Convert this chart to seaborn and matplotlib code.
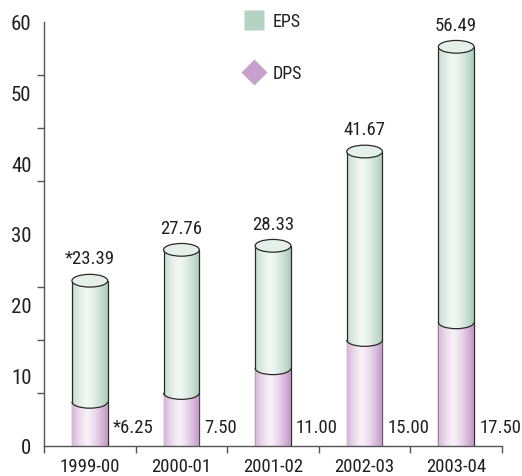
import matplotlib
matplotlib.use('Agg')
import matplotlib.pyplot as plt
import seaborn as sns
import numpy as np
import pandas as pd
from matplotlib.patches import Ellipse, Arc, Polygon
from matplotlib.lines import Line2D
from matplotlib import font_manager

# ---- data ----
years = ['1999-00', '2000-01', '2001-02', '2002-03', '2003-04']
eps = [23.39, 27.76, 28.33, 41.67, 56.49]
dps = [6.25, 7.50, 11.00, 15.00, 17.50]
eps_labels = ['*23.39', '27.76', '28.33', '41.67', '56.49']
dps_labels = ['*6.25', '7.50', '11.00', '15.00', '17.50']
y_labels = [0, 10, 20, 30, 40, 50, 60]
y_ticks = [0, 7.5, 15, 22.5, 30, 37.5, 45, 52.5, 60]
series_names = ['EPS', 'DPS']

# ---- style ----
sns.set_style('white')
fl = font_manager.fontManager.ttflist
names = {f.name for f in fl}
narrow = False
if 'Liberation Sans Narrow' in names:
    plt.rcParams['font.family'] = ['Liberation Sans Narrow', 'DejaVu Sans']
    narrow = True
elif 'Roboto Condensed' in names:
    plt.rcParams['font.family'] = ['Roboto Condensed', 'DejaVu Sans']
    narrow = True
elif any(f.name == 'DejaVu Sans' and f.stretch == 'condensed' for f in fl):
    plt.rcParams['font.family'] = ['DejaVu Sans']
    plt.rcParams['font.stretch'] = 'condensed'
    narrow = True
elif 'Open Sans Condensed' in names:
    plt.rcParams['font.family'] = ['Open Sans Condensed', 'DejaVu Sans']
    narrow = True
else:
    plt.rcParams['font.family'] = ['Liberation Sans', 'DejaVu Sans']

fs_val = 13.5 if narrow else 12
fs_x = 13.5 if narrow else 12
fs_y = 15 if narrow else 14
fs_leg = 13 if narrow else 12

green = '#a9cbb8'
green_hi = '#f2f8f4'
purple = '#c193c6'
purple_hi = '#f8f0f8'
edge = '#2a2a2a'
txt = '#231f20'
axis_col = '#555555'

fig = plt.figure(figsize=(5.22, 4.77), dpi=100)
ax = fig.add_axes([44 / 522, 30 / 477, (502 - 44) / 522, (447 - 23) / 477])

df = pd.DataFrame({'year': years, 'EPS': eps, 'DPS': dps})
W = 0.39
sns.barplot(data=df, x='year', y='EPS', color=green, width=W, saturation=1,
            edgecolor=edge, linewidth=0.9, errorbar=None, ax=ax)
sns.barplot(data=df, x='year', y='DPS', color=purple, width=W, saturation=1,
            edgecolor=edge, linewidth=0.9, errorbar=None, ax=ax)

ax.set_xlim(-0.5, 4.5)
ax.set_ylim(0, 60)

n = len(years)
bars = list(ax.patches)
green_bars, purple_bars = bars[:n], bars[n:2 * n]


def gradient(base, hi):
    t = np.linspace(0, 1, 200)
    s = np.clip(1 - (np.abs(t - 0.42) / 0.58) ** 1.4, 0, 1)
    b = np.array(matplotlib.colors.to_rgb(base))
    h = np.array(matplotlib.colors.to_rgb(hi))
    rgb = b[None, :] + (h - b)[None, :] * s[:, None]
    return rgb[None, :, :]


EH = 1.8  # ellipse height in data units
g_img = gradient(green, green_hi)
p_img = gradient(purple, purple_hi)
for i, p in enumerate(green_bars):
    x0, w, y0, h = p.get_x(), p.get_width(), p.get_y(), p.get_height()
    p.set_facecolor('none')
    p.set_zorder(2.1)
    im = ax.imshow(g_img, extent=[x0, x0 + w, y0, y0 + h], aspect='auto',
                   zorder=2.0, interpolation='bilinear')
    im.set_clip_path(p)
    ax.add_patch(Ellipse((x0 + w / 2, y0 + h), w, EH, facecolor='#e4f0e9',
                         edgecolor=edge, linewidth=0.9, zorder=2.6))

for i, p in enumerate(purple_bars):
    x0, w, y0, h = p.get_x(), p.get_width(), p.get_y(), p.get_height()
    p.set_facecolor('none')
    p.set_edgecolor('none')
    cx = x0 + w / 2
    th = np.linspace(np.pi, 2 * np.pi, 60)
    top = np.column_stack([cx + w / 2 * np.cos(th), y0 + h + EH / 2 * np.sin(th)])
    poly = np.vstack([top, [[x0 + w, y0], [x0, y0]]])
    clip = Polygon(poly, closed=True, facecolor='none', edgecolor='none',
                   transform=ax.transData)
    ax.add_patch(clip)
    im = ax.imshow(p_img, extent=[x0, x0 + w, y0, y0 + h], aspect='auto',
                   zorder=2.2, interpolation='bilinear')
    im.set_clip_path(clip)
    ax.add_patch(Arc((cx, y0 + h), w, EH, theta1=180, theta2=360,
                     edgecolor=edge, linewidth=0.9, zorder=2.5))

ax.set_xlim(-0.5, 4.5)
ax.set_ylim(0, 60)

# value labels
for i in range(n):
    ax.annotate(eps_labels[i], (i, eps[i]), xytext=(0, 16),
                textcoords='offset points', ha='center', va='center',
                fontsize=fs_val, color=txt)
    ax.text(i + 0.25, 2.7, dps_labels[i], ha='left', va='center',
            fontsize=fs_val, color=txt)

# axes
sns.despine(ax=ax, top=True, right=True)
for s in ['left', 'bottom']:
    ax.spines[s].set_color(axis_col)
    ax.spines[s].set_linewidth(1.0)

ax.set_yticks(y_labels)
ax.set_yticklabels([str(v) for v in y_labels], fontsize=fs_y, color=txt)
ax.set_yticks(y_ticks, minor=True)
ax.tick_params(axis='y', which='major', length=0, pad=9)
ax.tick_params(axis='y', which='minor', length=5, width=1.0, color=axis_col, left=True)

ax.set_xticks(range(n))
ax.set_xticklabels(years, fontsize=fs_x, color=txt)
ax.set_xticks(np.arange(-0.5, n, 1.0), minor=True)
ax.tick_params(axis='x', which='major', length=0, pad=8)
ax.tick_params(axis='x', which='minor', length=5, width=1.0, color=axis_col, bottom=True)
ax.set_xlabel('')
ax.set_ylabel('')

# legend
handles = [Line2D([], [], linestyle='none', marker='s', markersize=14.4,
                  markerfacecolor='#b5d3c3', markeredgecolor='none'),
           Line2D([], [], linestyle='none', marker='D', markersize=13,
                  markerfacecolor='#c8a0cc', markeredgecolor='none')]
leg = ax.legend(handles, series_names, loc='upper left',
                bbox_to_anchor=(240 / 522, 1 - 13 / 477),
                bbox_transform=fig.transFigure, frameon=False,
                fontsize=fs_leg, handlelength=1.5, handletextpad=0.3,
                labelspacing=1.9, borderpad=0, borderaxespad=0)
for t in leg.get_texts():
    t.set_color(txt)

fig.savefig('out.png', dpi=100)
